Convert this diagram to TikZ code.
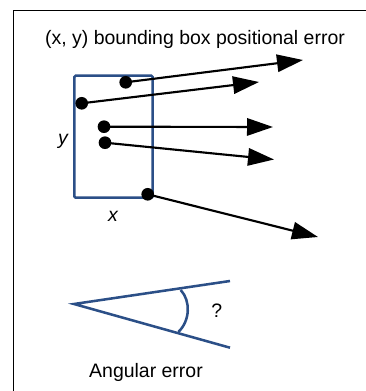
\documentclass[tikz,border=0pt]{standalone}
\usepackage{fontspec}
\setmainfont{Liberation Sans}
\usetikzlibrary{arrows.meta}
\definecolor{boxblue}{HTML}{2B4F87}
\begin{document}
\begin{tikzpicture}[x=0.75pt,y=-0.75pt,
  dot/.style={circle,fill=black,inner sep=0pt,minimum size=9.5pt},
  arr/.style={line width=1.6pt,-{Triangle[length=19.5pt,width=13pt]}},
  blueline/.style={draw=boxblue,line width=1.9pt},
  lbl/.style={font=\fontsize{14.6pt}{16pt}\selectfont,inner sep=0pt}]
\useasboundingbox (0,0) rectangle (366,391);
% frame
\draw[line width=1.1pt] (13.5,391) -- (13.5,10.5) -- (366,10.5);
% title
\node[lbl] (title) at (195,39) {(x, y) bounding box positional error};
% box
\draw[blueline,rounded corners=1pt] (74.3,75.7) rectangle (152.7,197.7);
\node[lbl,font=\fontsize{14.6pt}{16pt}\selectfont\itshape] (ylab) at (63,141) {y};
\node[lbl,font=\fontsize{14.6pt}{16pt}\selectfont\itshape] (xlab) at (113,216) {x};
% dots
\node[dot] (d1) at (125.7,82.3) {};
\node[dot] (d2) at (81.7,103.3) {};
\node[dot] (d3) at (104,126.7) {};
\node[dot] (d4) at (105,142.7) {};
\node[dot] (d5) at (147.7,194.3) {};
\coordinate (t1) at (303,60);
\coordinate (t2) at (259,82);
\coordinate (t3) at (273,127);
\coordinate (t4) at (274,159.5);
\coordinate (t5) at (318,237);
\draw[arr] (d1.center) -- (t1);
\draw[arr] (d2.center) -- (t2);
\draw[arr] (d3.center) -- (t3);
\draw[arr] (d4.center) -- (t4);
\draw[arr] (d5.center) -- (t5);
% angle
\coordinate (v) at (74,304);
\coordinate (u) at (230,281);
\coordinate (l) at (230,347.7);
\draw[blueline,line join=miter] (u) -- (v) -- (l);
\coordinate (a1) at (180.7,290);
\coordinate (a2) at (178.3,332);
\draw[blueline] (a1) .. controls (191,301) and (190,321) .. (a2);
\node[lbl] (q) at (216.7,311) {?};
\node[lbl] (ang) at (146,372) {Angular error};
\end{tikzpicture}
\end{document}
